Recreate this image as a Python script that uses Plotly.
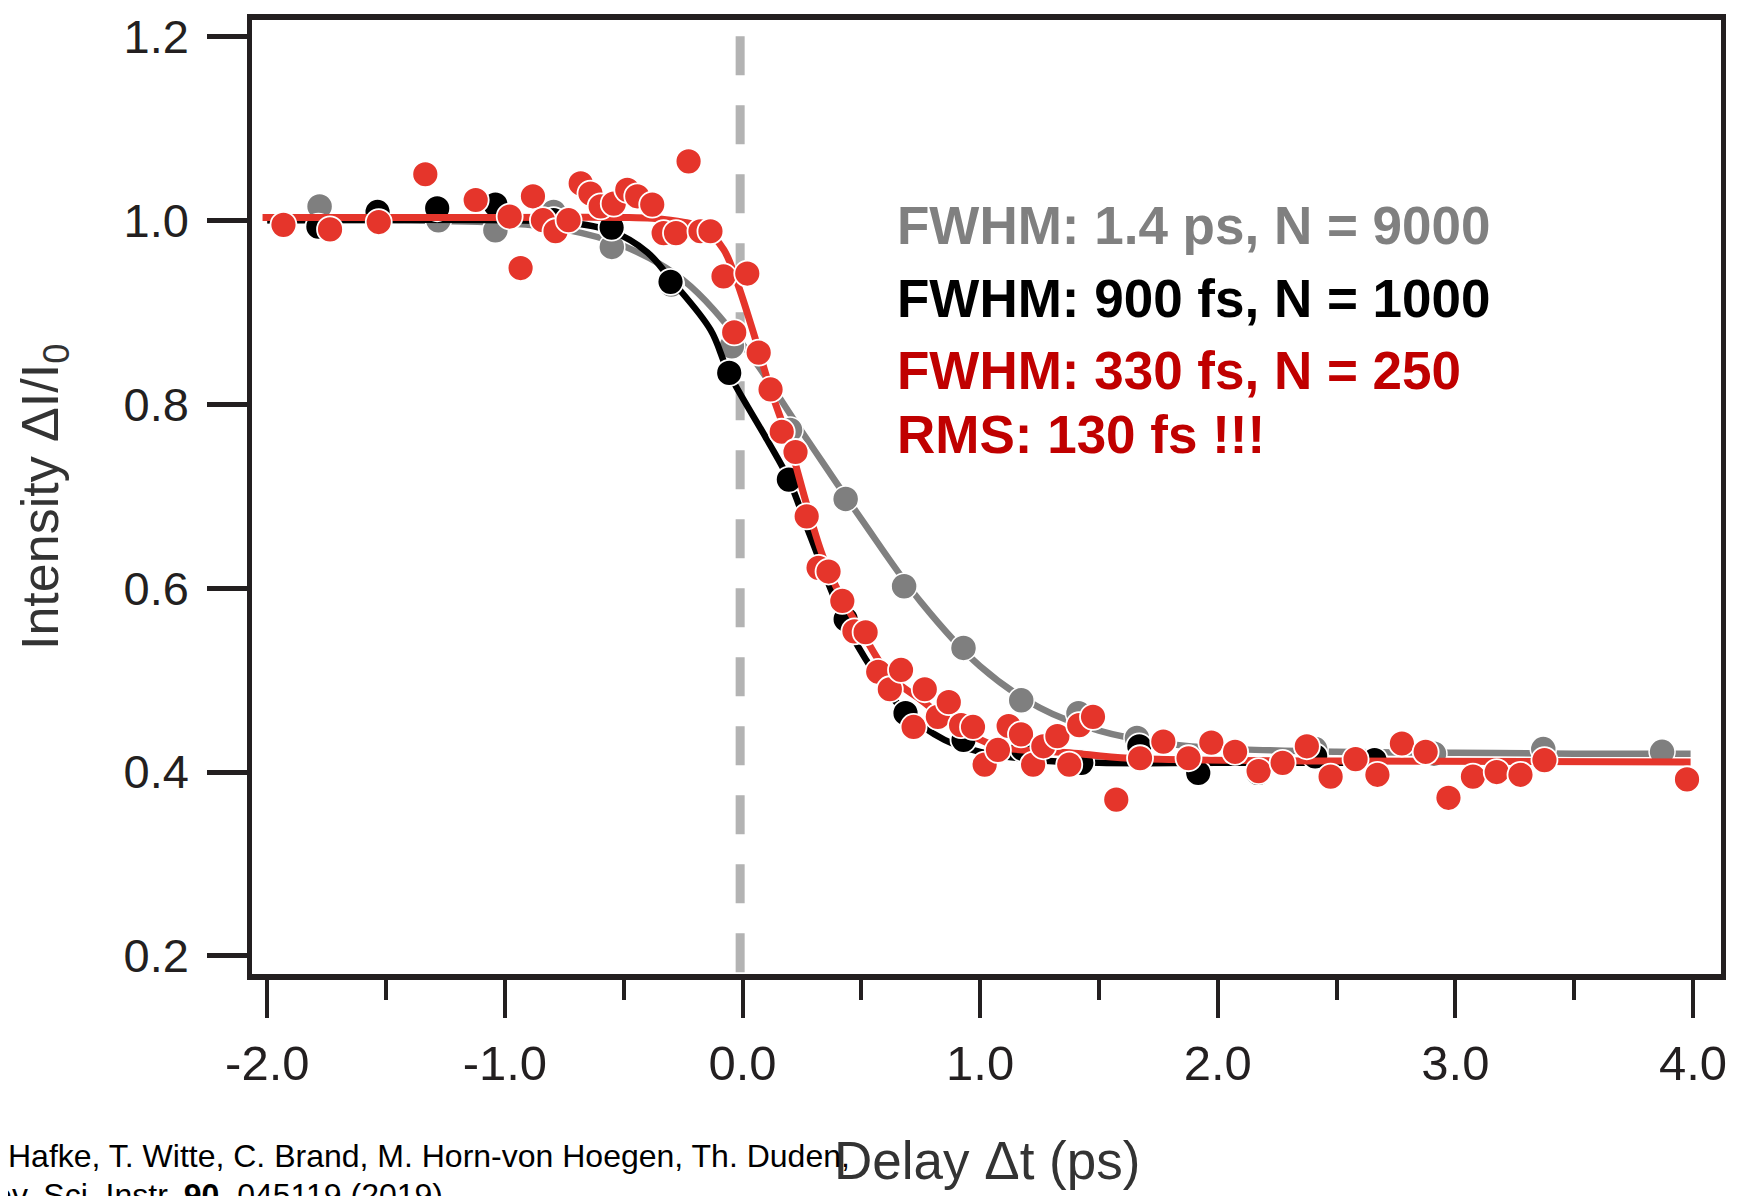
import plotly.graph_objects as go

# ---------------- data ----------------
red_x = [-1.932, -1.736, -1.531, -1.335, -1.123, -0.98, -0.934, -0.882, -0.84, -0.787,
         -0.732, -0.681, -0.64, -0.597, -0.542, -0.485, -0.443, -0.38, -0.332, -0.28,
         -0.227, -0.177, -0.135, -0.08, -0.035, 0.02, 0.068, 0.118, 0.165, 0.223,
         0.27, 0.32, 0.362, 0.42, 0.471, 0.518, 0.571, 0.62, 0.667, 0.72,
         0.767, 0.822, 0.868, 0.92, 0.97, 1.019, 1.075, 1.12, 1.172, 1.223,
         1.266, 1.325, 1.375, 1.417, 1.475, 1.573, 1.673, 1.771, 1.877, 1.973,
         2.073, 2.172, 2.273, 2.375, 2.475, 2.58, 2.672, 2.775, 2.875, 2.971,
         3.074, 3.174, 3.274, 3.375, 3.975]
red_y = [0.995, 0.990, 0.998, 1.050, 1.022, 1.004, 0.948, 1.026, 1.000, 0.988,
         1.000, 1.040, 1.029, 1.015, 1.018, 1.033, 1.026, 1.017, 0.986, 0.986,
         1.064, 0.988, 0.988, 0.939, 0.878, 0.942, 0.856, 0.816, 0.770, 0.748,
         0.678, 0.622, 0.618, 0.586, 0.553, 0.552, 0.509, 0.490, 0.511, 0.449,
         0.490, 0.460, 0.476, 0.451, 0.449, 0.408, 0.424, 0.450, 0.441, 0.408,
         0.428, 0.439, 0.408, 0.451, 0.460, 0.370, 0.415, 0.433, 0.415, 0.432,
         0.422, 0.401, 0.410, 0.428, 0.395, 0.414, 0.397, 0.431, 0.422, 0.372,
         0.395, 0.400, 0.397, 0.413, 0.392]

black_x = [-1.785, -1.536, -1.285, -1.04, -0.795, -0.551, -0.303, -0.056, 0.195, 0.434,
           0.686, 0.93, 1.18, 1.426, 1.67, 1.918, 2.17, 2.41, 2.66]
black_y = [0.993, 1.009, 1.013, 1.017, 1.000, 0.992, 0.933, 0.834, 0.718, 0.566,
           0.464, 0.435, 0.425, 0.410, 0.428, 0.399, 0.399, 0.417, 0.413]

gray_x = [-1.78, -1.53, -1.28, -1.04, -0.795, -0.55, -0.30, -0.045, 0.2, 0.434,
          0.68, 0.93, 1.173, 1.414, 1.66, 2.41, 2.91, 3.37, 3.87]
gray_y = [1.015, 1.005, 1.000, 0.989, 1.009, 0.971, 0.930, 0.863, 0.772, 0.697,
          0.602, 0.535, 0.478, 0.464, 0.437, 0.425, 0.420, 0.425, 0.422]

# fitted curves
gray_fit_x = [-2.0, -1.5, -1.0, -0.75, -0.5, -0.25, 0.0, 0.25, 0.5, 0.75,
              1.0, 1.25, 1.5, 1.75, 2.0, 2.5, 3.0, 3.5, 3.99]
gray_fit_y = [1.0, 1.0, 0.997, 0.99, 0.972, 0.935, 0.865, 0.77, 0.675, 0.585,
              0.515, 0.47, 0.445, 0.432, 0.426, 0.422, 0.421, 0.42, 0.42]

black_fit_x = [-2.0, -1.0, -0.75, -0.55, -0.4, -0.3, -0.135, -0.058, 0.104, 0.195,
               0.286, 0.426, 0.55, 0.69, 0.85, 1.0, 1.2, 1.5, 2.0, 2.7]
black_fit_y = [1.0, 1.0, 0.998, 0.988, 0.965, 0.935, 0.881, 0.834, 0.761, 0.718,
               0.656, 0.566, 0.51, 0.464, 0.435, 0.422, 0.414, 0.41, 0.41, 0.41]

red_fit_x = [-2.02, -1.0, -0.5, -0.38, -0.25, -0.163, -0.079, -0.022, 0.048, 0.118,
             0.2, 0.271, 0.342, 0.426, 0.496, 0.622, 0.748, 0.898, 1.074, 1.377,
             1.63, 2.51, 3.99]
red_fit_y = [1.003, 1.003, 1.003, 1.002, 0.998, 0.991, 0.968, 0.932, 0.876, 0.816,
             0.755, 0.69, 0.632, 0.585, 0.555, 0.504, 0.479, 0.45, 0.428, 0.421,
             0.415, 0.412, 0.411]

x_ticks = [-2, -1, 0, 1, 2, 3, 4]
x_tick_text = ["-2.0", "-1.0", "0.0", "1.0", "2.0", "3.0", "4.0"]
y_ticks = [0.2, 0.4, 0.6, 0.8, 1.0, 1.2]
y_tick_text = ["0.2", "0.4", "0.6", "0.8", "1.0", "1.2"]

labels = ["FWHM: 1.4 ps, N = 9000", "FWHM: 900 fs, N = 1000",
          "FWHM: 330 fs, N = 250", "RMS: 130 fs !!!"]
label_colors = ["#808080", "#000000", "#c00000", "#c00000"]

# ---------------- layout geometry ----------------
W, H = 1739, 1196
OFF = 8  # page offset of the figure (body margin)
# desired plot-area edges in page pixels
PL, PR, PT, PB = 252, 1721, 20, 974
L, T = PL - OFF, PT - OFF
R = W - (PR - OFF)
B = H - (PB - OFF)
FONT = "Liberation Sans, Arial, Helvetica, sans-serif"
RED = "#e5352b"
AXC = "#231f20"

def px_x(p):
    return (p - PL) / (PR - PL)

def px_y(p):
    return 1 - (p - PT) / (PB - PT)

fig = go.Figure()

fig.add_trace(go.Scatter(x=gray_fit_x, y=gray_fit_y, mode="lines",
                         line=dict(color="#808080", width=6.5, shape="spline"),
                         hoverinfo="skip"))
fig.add_trace(go.Scatter(x=gray_x, y=gray_y, mode="markers",
                         marker=dict(size=26, color="#7f7f7f",
                                     line=dict(color="white", width=1.5))))
fig.add_trace(go.Scatter(x=black_fit_x, y=black_fit_y, mode="lines",
                         line=dict(color="#000000", width=6.5, shape="spline"),
                         hoverinfo="skip"))
fig.add_trace(go.Scatter(x=black_x, y=black_y, mode="markers",
                         marker=dict(size=26, color="#000000",
                                     line=dict(color="white", width=1.8))))
fig.add_trace(go.Scatter(x=red_fit_x, y=red_fit_y, mode="lines",
                         line=dict(color=RED, width=7, shape="spline"),
                         hoverinfo="skip"))
fig.add_trace(go.Scatter(x=red_x, y=red_y, mode="markers",
                         marker=dict(size=26, color=RED,
                                     line=dict(color="white", width=1.8))))

# dashed time-zero marker
fig.add_shape(type="line", xref="x", yref="y", x0=-0.01, x1=-0.01, y0=1.2, y1=0.182,
              line=dict(color="#b3b3b3", width=9, dash="39px,30px"), layer="below")

annotations = []
label_y_px = [225, 298, 370, 434]
for text, col, yp in zip(labels, label_colors, label_y_px):
    annotations.append(dict(xref="paper", yref="paper", x=px_x(895), y=px_y(yp),
                            xanchor="left", yanchor="middle", showarrow=False,
                            text="<b>" + text + "</b>",
                            font=dict(family=FONT, size=53, color=col)))

# axis titles
annotations.append(dict(xref="paper", yref="paper", x=px_x(987), y=px_y(1160),
                        xanchor="center", yanchor="middle", showarrow=False,
                        text="Delay \u0394t (ps)",
                        font=dict(family=FONT, size=53, color="#333333")))
annotations.append(dict(xref="paper", yref="paper", x=px_x(44), y=px_y(497),
                        xanchor="center", yanchor="middle", showarrow=False,
                        textangle=-90, text="Intensity \u0394I/I<sub>0</sub>",
                        font=dict(family=FONT, size=52, color="#333333")))

# citation footer (partly cut off at the page edges, as in the reference)
annotations.append(dict(xref="paper", yref="paper", x=px_x(6), y=px_y(1155.5),
                        xanchor="left", yanchor="middle", showarrow=False,
                        text="Hafke, T. Witte, C. Brand, M. Horn-von Hoegen, Th. Duden,",
                        font=dict(family=FONT, size=32, color="#000000")))
annotations.append(dict(xref="paper", yref="paper", x=px_x(-31), y=px_y(1195),
                        xanchor="left", yanchor="middle", showarrow=False,
                        text="Rev. Sci. Instr. <b>90</b>, 045119 (2019)",
                        font=dict(family=FONT, size=32, color="#000000")))
annotations.append(dict(xref="paper", yref="paper", x=px_x(1729), y=px_y(1192),
                        xanchor="left", yanchor="middle", showarrow=False,
                        text="P", font=dict(family=FONT, size=32, color="#000000")))

fig.update_layout(
    width=W, height=H,
    margin=dict(l=L, r=R, t=T, b=B, pad=0, autoexpand=False),
    paper_bgcolor="white", plot_bgcolor="white",
    showlegend=False,
    annotations=annotations,
    font=dict(family=FONT, color=AXC),
)

fig.update_xaxes(
    automargin=False,
    range=[-2.0644, 4.118], showgrid=False, zeroline=False,
    showline=True, linecolor=AXC, linewidth=5.5, mirror=True,
    tickmode="array", tickvals=x_ticks, ticktext=x_tick_text,
    ticks="outside", ticklen=38, tickwidth=3.5, tickcolor=AXC,
    ticklabelstandoff=3,
    tickfont=dict(family=FONT, size=49, color=AXC),
    minor=dict(ticks="outside", ticklen=20, tickwidth=3.5, tickcolor=AXC,
               dtick=0.5, tick0=0.5, showgrid=False),
)
fig.update_yaxes(
    automargin=False,
    range=[0.1804, 1.2177], showgrid=False, zeroline=False,
    showline=True, linecolor=AXC, linewidth=4.5, mirror=True,
    tickmode="array", tickvals=y_ticks, ticktext=y_tick_text,
    ticks="outside", ticklen=40, tickwidth=4.5, tickcolor=AXC,
    ticklabelstandoff=9,
    tickfont=dict(family=FONT, size=47, color=AXC),
)

fig.write_html("out.html")
